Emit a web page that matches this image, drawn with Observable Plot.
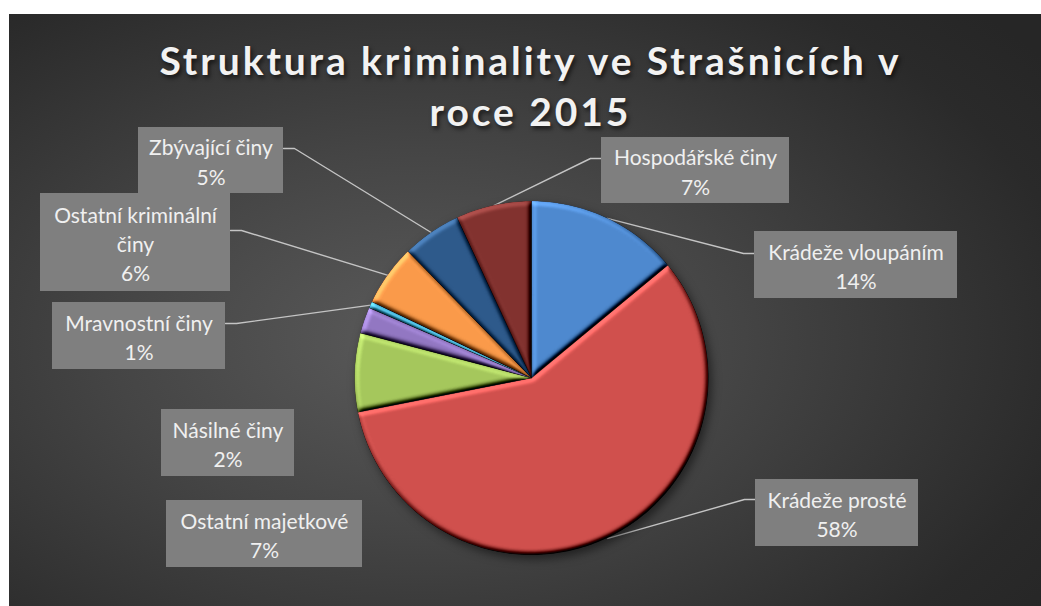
<!DOCTYPE html>
<html><head><meta charset="utf-8">
<script src="https://cdn.jsdelivr.net/npm/d3@7"></script>
<script src="https://cdn.jsdelivr.net/npm/@observablehq/plot@0.6"></script>
<style>
body{margin:0;background:#fff;}
#chart{position:absolute;left:9px;top:14px;width:1032px;height:592px;overflow:hidden;
background: radial-gradient(ellipse 75% 80% at 40% 55%, #5a5a5a 0%, #454545 40%, #2a2a2a 85%, #262626 100%);}
#title{position:absolute;left:0;top:21px;width:1032px;text-align:center;font-family:Lato;font-weight:700;font-size:39px;line-height:51px;color:#f2f2f2;text-shadow:2px 3px 4px rgba(0,0,0,0.6);white-space:nowrap;}
#chart svg{position:absolute;left:0;top:0;}
</style></head><body><div id="chart"><div id="title"></div></div>
<script>
// ---- data ----
const titleLines = ["Struktura kriminality ve Strašnicích v", "roce 2015"];
const categories = ["Krádeže vloupáním","Krádeže prosté","Ostatní majetkové","Násilné činy","Mravnostní činy","Ostatní kriminální činy","Zbývající činy","Hospodářské činy"];
const shares = [14.0, 57.9, 7.2, 2.4, 0.6, 5.6, 5.4, 6.9];
const sliceColors = ["#4e89cf","#d0504d","#a5c75c","#9277c2","#4cb6d8","#fa9a4a","#2e5a8b","#82322f"];

// ---- layout (chart pixels) ----
const W = 1032, H = 592, CX = 522.5, CY = 364, R = 177;
// [left, top, right, bottom], leader anchor y (null = no leader)
const labelLayout = [
  {box:[745,217,948,284], leaderY:239},
  {box:[746,465,909,532], leaderY:485},
  {box:[157,486,353,553], leaderY:null},
  {box:[152,395,285,462], leaderY:null},
  {box:[43,288,216,355], leaderY:309},
  {box:[31,179,221,277], leaderY:216},
  {box:[129,113,274,179], leaderY:134},
  {box:[592,123,780,189], leaderY:144}
];
const elbow = 11;
const labelFont = 21;

const px2x = p => (p - CX) / R;
const py2y = p => (CY - p) / R;

// title
const canvas = document.createElement("canvas");
const ctx = canvas.getContext("2d");
ctx.font = "bold 39px Lato";
const w0 = ctx.measureText(titleLines[0]).width;
const ls = (742 - w0) / (titleLines[0].length - 1);
const titleEl = document.getElementById("title");
titleEl.style.letterSpacing = ls + "px";
titleEl.style.left = (4 + ls / 2) + "px";
titleLines.forEach((t, i) => { if (i) titleEl.appendChild(document.createElement("br")); titleEl.appendChild(document.createTextNode(t)); });

// slices (wedge outlines from the shares)
const total = d3.sum(shares);
let acc = 0;
const slicePts = [];
const mids = [];
categories.forEach((name, i) => {
  const a0 = acc / total * 2 * Math.PI; acc += shares[i]; const a1 = acc / total * 2 * Math.PI;
  mids.push((a0 + a1) / 2);
  const n = Math.max(2, Math.ceil((a1 - a0) / (Math.PI / 180)));
  for (let k = 0; k <= n; k++) { const a = a0 + (a1 - a0) * k / n; slicePts.push({name, x: Math.sin(a), y: Math.cos(a), cx: 0, cy: 0}); }
});

// labels
ctx.font = labelFont + "px Lato";
function wrap(text, maxW) {
  const words = text.split(" "); const lines = []; let cur = "";
  for (const w of words) {
    const t = cur ? cur + " " + w : w;
    if (cur && ctx.measureText(t).width > maxW) { lines.push(cur); cur = w; } else cur = t;
  }
  lines.push(cur); return lines;
}
const labels = categories.map((name, i) => {
  const L = labelLayout[i]; const [l, t, r, b] = L.box;
  return {name, x1: px2x(l), x2: px2x(r), y1: py2y(b), y2: py2y(t),
    x: px2x((l + r) / 2), y: py2y((t + b) / 2),
    text: wrap(name, r - l - 2).join("\n") + "\n" + Math.round(shares[i] / total * 100) + "%"};
});
const leaders = [];
categories.forEach((name, i) => {
  const L = labelLayout[i]; if (L.leaderY == null) return;
  const [l, t, r, b] = L.box;
  const right = (l + r) / 2 < CX;
  const ax = right ? r : l;
  const ex = right ? r + elbow : l - elbow;
  leaders.push({name, x: Math.sin(mids[i]), y: Math.cos(mids[i])});
  leaders.push({name, x: px2x(ex), y: py2y(L.leaderY)});
  leaders.push({name, x: px2x(ax), y: py2y(L.leaderY)});
});

const plot = Plot.plot({
  width: W, height: H, margin: 0,
  x: {domain: [px2x(0), px2x(W)], axis: null},
  y: {domain: [py2y(H), py2y(0)], axis: null},
  color: {domain: categories, range: sliceColors},
  style: {background: "transparent", fontFamily: "Lato"},
  marks: [
    Plot.line(leaders, {x: "x", y: "y", z: "name", stroke: "#c4c4c4", strokeWidth: 1.4}),
    Plot.area(slicePts, {x1: "x", y1: "y", x2: "cx", y2: "cy", z: "name", fill: "name", stroke: "rgba(0,0,0,0.3)", strokeWidth: 0.8}),
    Plot.rect(labels, {x1: "x1", x2: "x2", y1: "y1", y2: "y2", fill: "#7f7f7f"}),
    Plot.text(labels, {x: "x", y: "y", text: "text", fill: "#f0f0f0", fontSize: labelFont, lineHeight: 1.4, fontFamily: "Lato"})
  ]
});
document.getElementById("chart").appendChild(plot);

const svg = d3.select(plot);
svg.insert("defs", ":first-child").html(`
<filter id="bevel" x="-5%" y="-5%" width="110%" height="110%" color-interpolation-filters="sRGB">
  <feGaussianBlur in="SourceAlpha" stdDeviation="2.5" result="blur"/>
  <feDiffuseLighting in="blur" surfaceScale="3" diffuseConstant="1" lighting-color="#ffffff" result="diff">
    <feDistantLight azimuth="235" elevation="55"/>
  </feDiffuseLighting>
  <feComposite in="SourceGraphic" in2="diff" operator="arithmetic" k1="1.22" k2="0" k3="0.45" k4="-0.369" result="lit"/>
  <feComposite in="lit" in2="SourceAlpha" operator="in"/>
</filter>`);
const g = svg.select('g[aria-label="area"]');
g.style("filter", "drop-shadow(3px 4px 5px rgba(0,0,0,0.5))");
g.selectAll("path").attr("filter", "url(#bevel)");
</script></body></html>
